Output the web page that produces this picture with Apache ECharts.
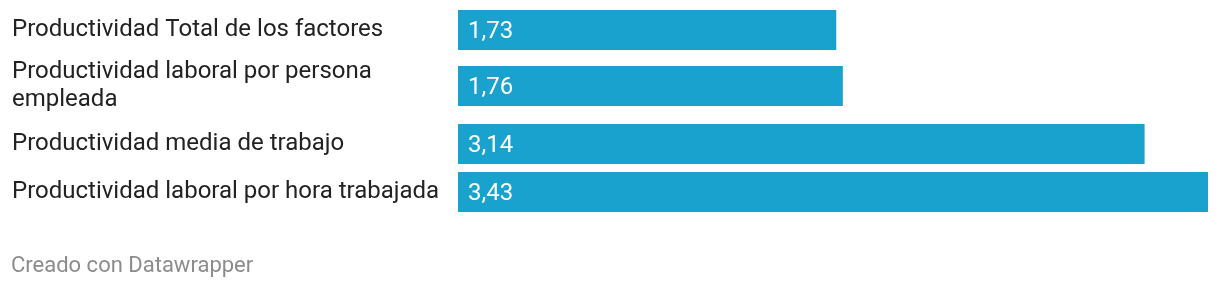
<!DOCTYPE html>
<html>
<head>
<meta charset="utf-8">
<script src="https://cdn.jsdelivr.net/npm/echarts@6/dist/echarts.min.js"></script>
<style>
html,body{margin:0;padding:0;background:#fff;}
#c{width:1220px;height:288px;}
</style>
</head>
<body>
<div id="c"></div>
<script>
const categories = [
  "Productividad Total de los factores",
  "Productividad laboral por persona empleada",
  "Productividad media de trabajo",
  "Productividad laboral por hora trabajada"
];
const values = [1.73, 1.76, 3.14, 3.43];
const footerText = "Creado con Datawrapper";

const barColor = "#18a2cd";
const font = "Roboto";
const rowTops = [10, 66, 124, 172];
const xMax = 3.43;

const grids = [], xAxes = [], yAxes = [], series = [];
categories.forEach((cat, i) => {
  grids.push({ left: 458, right: 12, top: rowTops[i], height: 40, containLabel: false });
  xAxes.push({ gridIndex: i, type: 'value', min: 0, max: xMax, show: false });
  yAxes.push({
    gridIndex: i, type: 'category', data: [cat],
    axisLine: { show: false }, axisTick: { show: false }, splitLine: { show: false },
    axisLabel: {
      show: true, align: 'left', margin: 446, fontFamily: font, fontSize: 24,
      color: '#222', width: 434, overflow: 'break', lineHeight: 28,
      padding: [4, 0, 0, 0]
    }
  });
  series.push({
    type: 'bar', xAxisIndex: i, yAxisIndex: i, data: [values[i]],
    barWidth: 40, itemStyle: { color: barColor }, silent: true,
    label: {
      show: true, position: 'insideLeft', distance: 10, color: '#fff',
      fontFamily: font, fontSize: 24, offset: [0, 2],
      formatter: p => p.value.toFixed(2).replace('.', ',')
    }
  });
});

const chart = echarts.init(document.getElementById('c'), null, { renderer: 'canvas' });
chart.setOption({
  animation: false,
  grid: grids, xAxis: xAxes, yAxis: yAxes, series: series,
  graphic: [{
    type: 'text', left: 11, top: 255,
    style: { text: footerText, fontFamily: font, fontSize: 22, fill: '#8c8c8c' }
  }]
});
</script>
</body>
</html>
